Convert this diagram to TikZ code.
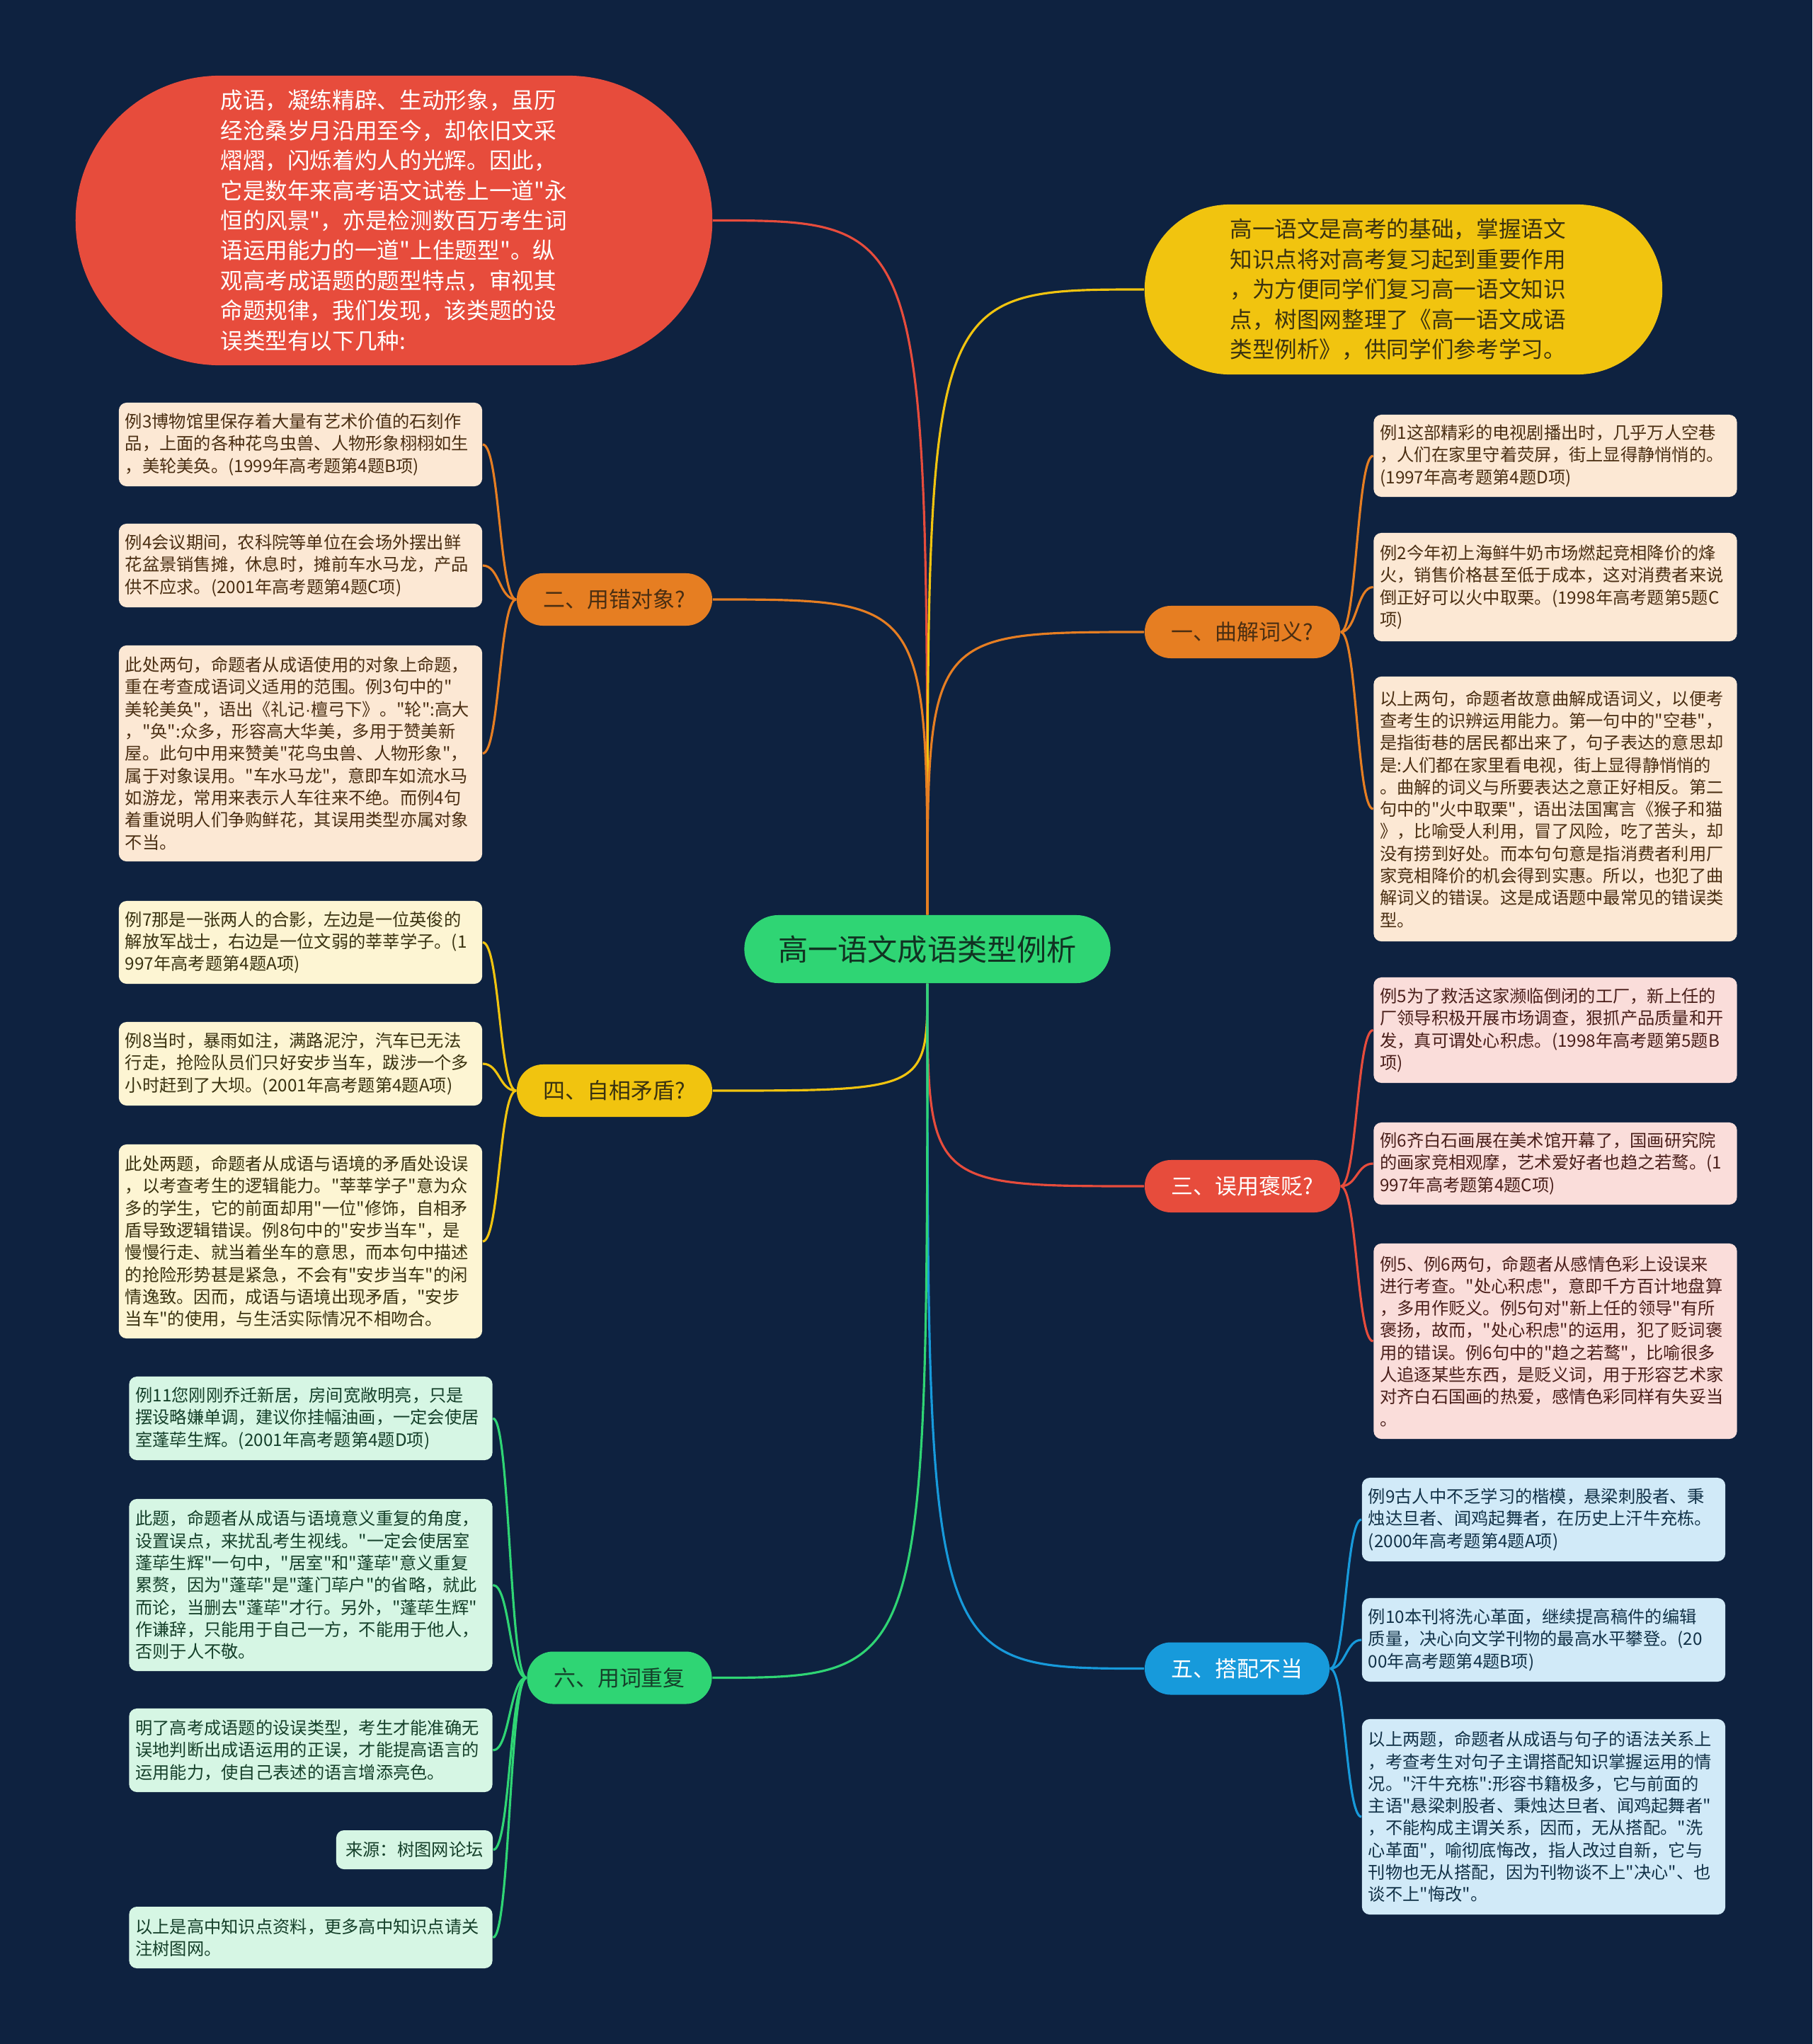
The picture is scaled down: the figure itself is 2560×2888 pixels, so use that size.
\documentclass[tikz,border=0pt]{standalone}
\usepackage{fontspec}
\setmainfont{Noto Sans CJK SC}[Ligatures=TeXOff]
\newfontfamily\latinfont{Liberation Sans}
\usepackage{tikz}
\usetikzlibrary{calc}

\definecolor{bgnavy}{HTML}{0E2240}
\definecolor{mapgreen}{HTML}{2FD574}
\definecolor{maporange}{HTML}{E67E22}
\definecolor{mapred}{HTML}{E74C3C}
\definecolor{mapyellow}{HTML}{F1C40F}
\definecolor{mapblue}{HTML}{179ADB}
\definecolor{leaforange}{HTML}{FCE8D4}
\definecolor{leafred}{HTML}{FADDDA}
\definecolor{leafyellow}{HTML}{FDF5D3}
\definecolor{leafblue}{HTML}{D1EAF8}
\definecolor{leafgreen}{HTML}{D6F6E4}
\definecolor{inkbrown}{HTML}{4A2E12}
\definecolor{inkred}{HTML}{4A1F1A}
\definecolor{inkolive}{HTML}{3A3210}
\definecolor{inkblue}{HTML}{123248}
\definecolor{inkgreen}{HTML}{15402A}

\begin{document}
\begin{tikzpicture}[x=0.01cm, y=-0.01cm,
  leaf/.style={rounded corners=0.11cm, text width=4.95cm, inner xsep=0.09cm,
    inner ysep=0pt, align=left, font=\fontsize{6.9}{8.9}\selectfont},
  tag/.style={rounded corners=0.11cm, inner xsep=0.09cm, inner ysep=0pt,
    font=\fontsize{6.9}{8.9}\selectfont},
  branch/.style={rounded corners=0.37cm, minimum height=0.74cm,
    minimum width=2.76cm, font=\fontsize{8.8}{10}\selectfont},
  link/.style={line width=0.9pt}]

  % ---- canvas ----
  \fill[bgnavy] (0,0) rectangle (2560,2888);
  \useasboundingbox (0,0) rectangle (2560,2888);

  % ---- root and the two intro blobs ----
  \node[fill=mapgreen, rounded corners=0.48cm, minimum width=5.17cm,
    minimum height=0.96cm, text=inkgreen!80!black,
    font=\fontsize{12}{14}\selectfont] (root) at (1310,1341) {高一语文成语类型例析};

  \node[fill=mapred, rounded corners=2.04cm, minimum width=8.99cm,
    minimum height=4.09cm, text width=4.9cm, align=left, text=white,
    font=\fontsize{9}{12.06}\selectfont] (intro) at (556.5,311.5)
    {成语，凝练精辟、生动形象，虽历\\
     经沧桑岁月沿用至今，却依旧文采\\
     熠熠，闪烁着灼人的光辉。因此，\\
     它是数年来高考语文试卷上一道"永\\
     恒的风景"，亦是检测数百万考生词\\
     语运用能力的一道"上佳题型"。纵\\
     观高考成语题的题型特点，审视其\\
     命题规律，我们发现，该类题的设\\
     误类型有以下几种:};

  \node[fill=mapyellow, rounded corners=1.2cm, minimum width=7.31cm,
    minimum height=2.4cm, text width=4.9cm, align=left, text=inkolive,
    font=\fontsize{9}{12.06}\selectfont] (note) at (1982.5,409)
    {高一语文是高考的基础，掌握语文\\
     知识点将对高考复习起到重要作用\\
     ，为方便同学们复习高一语文知识\\
     点，树图网整理了《高一语文成语\\
     类型例析》，供同学们参考学习。};

  % ---- branches ----
  \node[branch, fill=maporange, text=inkbrown] (b1) at (1755,893) {一、曲解词义?};
  \node[branch, fill=maporange, text=inkbrown] (b2) at (868,847) {二、用错对象?};
  \node[branch, fill=mapred, text=white] (b3) at (1755,1676) {三、误用褒贬?};
  \node[branch, fill=mapyellow, text=inkolive] (b4) at (868,1541) {四、自相矛盾?};
  \node[branch, fill=mapblue, text=white, minimum width=2.61cm] (b5) at (1747.5,2357.5) {五、搭配不当};
  \node[branch, fill=mapgreen, text=inkgreen, minimum width=2.61cm] (b6) at (875,2370.5) {六、用词重复};

  % ---- 一 leaves ----
  \node[leaf, fill=leaforange, text=inkbrown, minimum height=1.16cm] (b1a) at (2197,644)
    {例1这部精彩的电视剧播出时，几乎万人空巷\\
     ，人们在家里守着荧屏，街上显得静悄悄的。\\
     (1997年高考题第4题D项)};
  \node[leaf, fill=leaforange, text=inkbrown, minimum height=1.53cm] (b1b) at (2197,829.5)
    {例2今年初上海鲜牛奶市场燃起竞相降价的烽\\
     火，销售价格甚至低于成本，这对消费者来说\\
     倒正好可以火中取栗。(1998年高考题第5题C\\
     项)};
  \node[leaf, fill=leaforange, text=inkbrown, minimum height=3.74cm] (b1c) at (2197,1143)
    {以上两句，命题者故意曲解成语词义，以便考\\
     查考生的识辨运用能力。第一句中的"空巷"，\\
     是指街巷的居民都出来了，句子表达的意思却\\
     是:人们都在家里看电视，街上显得静悄悄的\\
     。曲解的词义与所要表达之意正好相反。第二\\
     句中的"火中取栗"，语出法国寓言《猴子和猫\\
     》，比喻受人利用，冒了风险，吃了苦头，却\\
     没有捞到好处。而本句句意是指消费者利用厂\\
     家竞相降价的机会得到实惠。所以，也犯了曲\\
     解词义的错误。这是成语题中最常见的错误类\\
     型。};

  % ---- 二 leaves ----
  \node[leaf, fill=leaforange, text=inkbrown, minimum height=1.18cm] (b2a) at (424.5,628)
    {例3博物馆里保存着大量有艺术价值的石刻作\\
     品，上面的各种花鸟虫兽、人物形象栩栩如生\\
     ，美轮美奂。(1999年高考题第4题B项)};
  \node[leaf, fill=leaforange, text=inkbrown, minimum height=1.18cm] (b2b) at (424.5,799)
    {例4会议期间，农科院等单位在会场外摆出鲜\\
     花盆景销售摊，休息时，摊前车水马龙，产品\\
     供不应求。(2001年高考题第4题C项)};
  \node[leaf, fill=leaforange, text=inkbrown, minimum height=3.05cm] (b2c) at (424.5,1064.5)
    {此处两句，命题者从成语使用的对象上命题，\\
     重在考查成语词义适用的范围。例3句中的"\\
     美轮美奂"，语出《礼记{\latinfont ·}檀弓下》。"轮":高大\\
     ，"奂":众多，形容高大华美，多用于赞美新\\
     屋。此句中用来赞美"花鸟虫兽、人物形象"，\\
     属于对象误用。"车水马龙"，意即车如流水马\\
     如游龙，常用来表示人车往来不绝。而例4句\\
     着重说明人们争购鲜花，其误用类型亦属对象\\
     不当。};

  % ---- 三 leaves ----
  \node[leaf, fill=leafred, text=inkred, minimum height=1.49cm] (b3a) at (2197,1455.5)
    {例5为了救活这家濒临倒闭的工厂，新上任的\\
     厂领导积极开展市场调查，狠抓产品质量和开\\
     发，真可谓处心积虑。(1998年高考题第5题B\\
     项)};
  \node[leaf, fill=leafred, text=inkred, minimum height=1.16cm] (b3b) at (2197,1644)
    {例6齐白石画展在美术馆开幕了，国画研究院\\
     的画家竞相观摩，艺术爱好者也趋之若鹜。(1\\
     997年高考题第4题C项)};
  \node[leaf, fill=leafred, text=inkred, minimum height=2.76cm] (b3c) at (2197,1895)
    {例5、例6两句，命题者从感情色彩上设误来\\
     进行考查。"处心积虑"，意即千方百计地盘算\\
     ，多用作贬义。例5句对"新上任的领导"有所\\
     褒扬，故而，"处心积虑"的运用，犯了贬词褒\\
     用的错误。例6句中的"趋之若鹜"，比喻很多\\
     人追逐某些东西，是贬义词，用于形容艺术家\\
     对齐白石国画的热爱，感情色彩同样有失妥当\\
     。};

  % ---- 四 leaves ----
  \node[leaf, fill=leafyellow, text=inkolive, minimum height=1.17cm] (b4a) at (424.5,1331.5)
    {例7那是一张两人的合影，左边是一位英俊的\\
     解放军战士，右边是一位文弱的莘莘学子。(1\\
     997年高考题第4题A项)};
  \node[leaf, fill=leafyellow, text=inkolive, minimum height=1.18cm] (b4b) at (424.5,1503)
    {例8当时，暴雨如注，满路泥泞，汽车已无法\\
     行走，抢险队员们只好安步当车，跋涉一个多\\
     小时赶到了大坝。(2001年高考题第4题A项)};
  \node[leaf, fill=leafyellow, text=inkolive, minimum height=2.74cm] (b4c) at (424.5,1754)
    {此处两题，命题者从成语与语境的矛盾处设误\\
     ，以考查考生的逻辑能力。"莘莘学子"意为众\\
     多的学生，它的前面却用"一位"修饰，自相矛\\
     盾导致逻辑错误。例8句中的"安步当车"，是\\
     慢慢行走、就当着坐车的意思，而本句中描述\\
     的抢险形势甚是紧急，不会有"安步当车"的闲\\
     情逸致。因而，成语与语境出现矛盾，"安步\\
     当车"的使用，与生活实际情况不相吻合。};

  % ---- 五 leaves ----
  \node[leaf, fill=leafblue, text=inkblue, minimum height=1.18cm] (b5a) at (2180.5,2147)
    {例9古人中不乏学习的楷模，悬梁刺股者、秉\\
     烛达旦者、闻鸡起舞者，在历史上汗牛充栋。\\
     (2000年高考题第4题A项)};
  \node[leaf, fill=leafblue, text=inkblue, minimum height=1.18cm] (b5b) at (2180.5,2317)
    {例10本刊将洗心革面，继续提高稿件的编辑\\
     质量，决心向文学刊物的最高水平攀登。(20\\
     00年高考题第4题B项)};
  \node[leaf, fill=leafblue, text=inkblue, minimum height=2.76cm] (b5c) at (2180.5,2567)
    {以上两题，命题者从成语与句子的语法关系上\\
     ，考查考生对句子主谓搭配知识掌握运用的情\\
     况。"汗牛充栋":形容书籍极多，它与前面的\\
     主语"悬梁刺股者、秉烛达旦者、闻鸡起舞者"\\
     ，不能构成主谓关系，因而，无从搭配。"洗\\
     心革面"，喻彻底悔改，指人改过自新，它与\\
     刊物也无从搭配，因为刊物谈不上"决心"、也\\
     谈不上"悔改"。};

  % ---- 六 leaves ----
  \node[leaf, fill=leafgreen, text=inkgreen, minimum height=1.18cm] (b6a) at (439,2004)
    {例11您刚刚乔迁新居，房间宽敞明亮，只是\\
     摆设略嫌单调，建议你挂幅油画，一定会使居\\
     室蓬荜生辉。(2001年高考题第4题D项)};
  \node[leaf, fill=leafgreen, text=inkgreen, minimum height=2.43cm] (b6b) at (439,2239.5)
    {此题，命题者从成语与语境意义重复的角度，\\
     设置误点，来扰乱考生视线。"一定会使居室\\
     蓬荜生辉"一句中，"居室"和"蓬荜"意义重复\\
     累赘，因为"蓬荜"是"蓬门荜户"的省略，就此\\
     而论，当删去"蓬荜"才行。另外，"蓬荜生辉"\\
     作谦辞，只能用于自己一方，不能用于他人，\\
     否则于人不敬。};
  \node[leaf, fill=leafgreen, text=inkgreen, minimum height=1.18cm] (b6c) at (439,2473)
    {明了高考成语题的设误类型，考生才能准确无\\
     误地判断出成语运用的正误，才能提高语言的\\
     运用能力，使自己表述的语言增添亮色。};
  \node[tag, fill=leafgreen, text=inkgreen, minimum height=0.55cm,
    minimum width=2.21cm] (b6d) at (585.5,2613.5) {来源：树图网论坛};
  \node[leaf, fill=leafgreen, text=inkgreen, minimum height=0.87cm] (b6e) at (439,2737.5)
    {以上是高中知识点资料，更多高中知识点请关\\
     注树图网。};

  % ---- root to branches ----
  \draw[link, mapred] (root.north) .. controls (root.north |- intro.east) .. (intro.east);
  \draw[link, mapyellow] (root.north) .. controls (root.north |- note.west) .. (note.west);
  \draw[link, maporange] (root.north) .. controls (root.north |- b1.west) .. (b1.west);
  \draw[link, maporange] (root.north) .. controls (root.north |- b2.east) .. (b2.east);
  \draw[link, mapred] (root.south) .. controls (root.south |- b3.west) .. (b3.west);
  \draw[link, mapyellow] (root.south) .. controls (root.south |- b4.east) .. (b4.east);
  \draw[link, mapblue] (root.south) .. controls (root.south |- b5.west) .. (b5.west);
  \draw[link, mapgreen] (root.south) .. controls (root.south |- b6.east) .. (b6.east);

  % ---- branches to leaves ----
  \foreach \c in {b1a,b1b,b1c}
    \draw[link, maporange] (b1.east) .. controls +(23,0) and +(-23,0) .. (\c.west);
  \foreach \c in {b2a,b2b,b2c}
    \draw[link, maporange] (b2.west) .. controls +(-24,0) and +(24,0) .. (\c.east);
  \foreach \c in {b3a,b3b,b3c}
    \draw[link, mapred] (b3.east) .. controls +(23,0) and +(-23,0) .. (\c.west);
  \foreach \c in {b4a,b4b,b4c}
    \draw[link, mapyellow] (b4.west) .. controls +(-24,0) and +(24,0) .. (\c.east);
  \foreach \c in {b5a,b5b,b5c}
    \draw[link, mapblue] (b5.east) .. controls +(22,0) and +(-22,0) .. (\c.west);
  \foreach \c in {b6a,b6b,b6c,b6d,b6e}
    \draw[link, mapgreen] (b6.west) .. controls +(-24,0) and +(24,0) .. (\c.east);

\end{tikzpicture}
\end{document}
